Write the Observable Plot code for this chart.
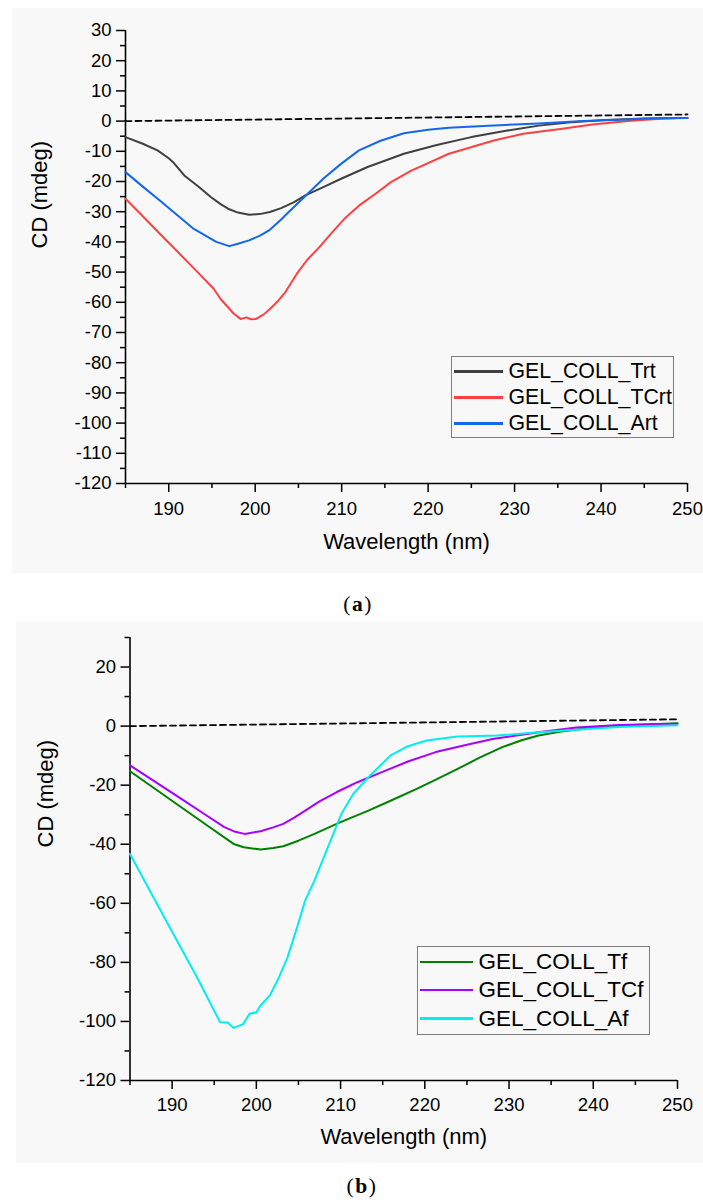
<!DOCTYPE html>
<html><head><meta charset="utf-8">
<script src="https://cdn.jsdelivr.net/npm/d3@7"></script>
<script src="https://cdn.jsdelivr.net/npm/@observablehq/plot@0.6"></script>
<style>
body{margin:0;background:#fff;}
#page{position:relative;width:703px;height:1202px;overflow:hidden;font-family:"Liberation Sans",Arial,sans-serif;}
.panel{position:absolute;background:#f8f8f8;}
.wrap{position:absolute;left:0;}
.legend{position:absolute;border:1.5px solid #7f7f7f;box-sizing:border-box;}
.sw{position:absolute;}
.lab{position:absolute;white-space:nowrap;line-height:1;color:#000;font-family:"Liberation Sans",Arial,sans-serif;}
.cap{position:absolute;font-family:"Liberation Serif","Times New Roman",serif;line-height:1;font-size:21.5px;letter-spacing:1.5px;width:100px;text-align:center;color:#000;}
</style></head>
<body><div id="page"></div>
<script>
// ---------- Data: panel (a) ----------
const wlTrt = [185, 187, 188.7, 190, 190.5, 191.8, 193.5, 194.9, 196, 197, 198, 199.3, 200.5, 201.7, 203, 204.5, 205.8, 208, 210, 213, 217.2, 221, 225, 229, 232.8, 236.5, 240.5, 245, 250];
const cdTrt = [-5.3, -7.5, -9.7, -12.3, -13.6, -18, -21.8, -25.2, -27.5, -29.2, -30.3, -31, -30.8, -30.1, -28.8, -26.8, -24.6, -21.7, -19, -15.2, -10.8, -7.9, -5.3, -3.2, -1.5, -0.4, 0.4, 0.9, 1];

const wlTCrt = [185, 187, 189, 191, 193, 195.2, 196, 197.5, 198.3, 199, 199.5, 200.1, 201, 201.7, 202.7, 203.5, 204.8, 206, 207.4, 209, 210.5, 212, 214, 215.7, 218, 222.4, 227.6, 231, 235.3, 239, 243.1, 246, 248.9, 250];
const cdTCrt = [-25.7, -31.5, -37.4, -43.2, -49, -55.5, -58.9, -63.7, -65.5, -65, -65.6, -65.5, -64, -62.2, -59.4, -56.6, -50.6, -46, -41.8, -36.5, -31.8, -28, -23.9, -20.2, -16.5, -10.8, -6.4, -4.2, -2.6, -1.1, 0, 0.6, 1, 1];

const wlArt = [185, 187, 189, 191, 192.8, 194, 195.5, 197, 198, 199.3, 200.5, 201.7, 203, 203.7, 205.8, 207.9, 210, 212, 214.5, 217.2, 220, 222.4, 227, 232.8, 238, 243, 247, 250];
const cdArt = [-16.9, -21.7, -26.4, -31.2, -35.5, -37.5, -40, -41.4, -40.6, -39.5, -38, -36, -32.6, -30.6, -24.8, -19, -14, -9.7, -6.5, -4, -2.9, -2.2, -1.5, -0.8, 0, 0.5, 1, 1];

const wlBaseA = [185, 250];
const cdBaseA = [0, 2.2];

// ---------- Data: panel (b) ----------
const wlTf = [185, 188, 191, 194, 197.3, 198.5, 200.5, 202, 203.2, 205, 206.9, 210, 213.3, 216, 219.1, 221.5, 223.9, 226.5, 229.2, 231.5, 233.5, 236, 238.8, 241.5, 244.7, 250];
const cdTf = [-15.3, -21.3, -27.3, -33.3, -39.9, -41, -41.8, -41.3, -40.7, -38.8, -36.5, -32.5, -28.6, -25.2, -21.2, -17.9, -14.5, -10.7, -7.1, -4.8, -3.2, -1.9, -0.9, -0.2, 0.4, 1];

const wlTCf = [185, 188, 191, 194, 196.2, 197.5, 198.6, 200.5, 202, 203.2, 204.5, 205.8, 207.5, 209.5, 212, 214.9, 218, 221.3, 225, 228.2, 233.5, 238, 243, 250];
const cdTCf = [-13.3, -18.9, -24.5, -30.1, -34.2, -35.8, -36.5, -35.6, -34.3, -33.1, -31, -28.6, -25.5, -22.4, -19, -15.6, -12, -8.8, -6.3, -4.3, -2.1, -0.5, 0.4, 0.8];

const wlAf = [185, 186.7, 190, 193, 195.7, 196.6, 197.3, 198.4, 199.2, 200, 200.5, 201.6, 202.7, 203.7, 204.8, 205.8, 206.9, 208.5, 210.1, 211.5, 213.3, 215.9, 218, 220.2, 223.9, 228.6, 233.5, 238, 243, 250];
const cdAf = [-43.3, -52.3, -69.6, -85.3, -100.3, -100.4, -102.2, -101, -97.4, -96.9, -94.6, -91.2, -85, -78.3, -68.5, -59, -52.3, -41, -29.7, -23, -17.3, -10, -6.8, -4.9, -3.5, -3.2, -2.1, -1.2, -0.3, 0.3];

const wlBaseB = [185, 250];
const cdBaseB = [0, 2.3];

// ---------- Labels / ticks ----------
const namesA = ["GEL_COLL_Trt", "GEL_COLL_TCrt", "GEL_COLL_Art"];
const namesB = ["GEL_COLL_Tf", "GEL_COLL_TCf", "GEL_COLL_Af"];
const xDomain = [185, 250];
const xMajor = [190, 200, 210, 220, 230, 240, 250];
const xMinor = [185, 195, 205, 215, 225, 235, 245];
const yDomainA = [-120, 30];
const yMajorA = [-120, -110, -100, -90, -80, -70, -60, -50, -40, -30, -20, -10, 0, 10, 20, 30];
const yMinorA = [-115, -105, -95, -85, -75, -65, -55, -45, -35, -25, -15, -5, 5, 15, 25];
const yDomainB = [-120, 30];
const yMajorB = [-120, -100, -80, -60, -40, -20, 0, 20];
const yMinorB = [-110, -90, -70, -50, -30, -10, 10, 30];
const xTitle = "Wavelength (nm)";
const yTitle = "CD (mdeg)";
const captions = ["a", "b"];

// ---------- Styles ----------
const colorsA = ["#404040", "#ff4040", "#1466f0"];
const colorsB = ["#008000", "#a800ff", "#00eeee"];

const rows = (wl, cd) => wl.map((w, i) => ({wl: w, cd: cd[i]}));

function panel(cfg) {
  const marks = [
    Plot.axisY(cfg.yMinor, {anchor: "left", tickSize: 5, tickFormat: () => "", label: null, strokeWidth: 1.5}),
    Plot.axisY(cfg.yMajor, {anchor: "left", tickSize: 9, tickPadding: 5, fontSize: cfg.tickFont, tickFormat: d => String(d), label: null, strokeWidth: 1.5}),
    Plot.axisX(xMinor, {anchor: "bottom", tickSize: 5, tickFormat: () => "", label: null, strokeWidth: 1.5}),
    Plot.axisX(xMajor, {anchor: "bottom", tickSize: 9, tickPadding: cfg.xPad, fontSize: cfg.tickFont, tickFormat: d => String(d), label: null, strokeWidth: 1.5}),
    Plot.ruleX([xDomain[0]], {y1: cfg.yDomain[0], y2: cfg.yDomain[1], stroke: "#000", strokeWidth: 1.6}),
    Plot.ruleY([cfg.yDomain[0]], {x1: xDomain[0], x2: xDomain[1], stroke: "#000", strokeWidth: 1.6}),
    Plot.line(cfg.base, {x: "wl", y: "cd", stroke: "#000", strokeWidth: 1.8, strokeDasharray: "6,4"}),
    ...cfg.series.map((s, i) => Plot.line(s, {x: "wl", y: "cd", stroke: cfg.colors[i], strokeWidth: 2})),
    Plot.text([xTitle], {frameAnchor: "bottom", dy: cfg.xTitleDy, fontSize: 22, lineAnchor: "middle", fill: "#000"}),
    Plot.text([yTitle], {frameAnchor: "left", rotate: -90, dx: cfg.yTitleDx, dy: cfg.yTitleDy, fontSize: 22, lineAnchor: "middle", fill: "#000"})
  ];
  return Plot.plot({
    width: 703, height: cfg.height,
    marginTop: cfg.mt, marginRight: cfg.mr, marginBottom: cfg.mb, marginLeft: cfg.ml,
    x: {domain: xDomain},
    y: {domain: cfg.yDomain},
    style: {background: "transparent", fontFamily: "'Liberation Sans', Arial, sans-serif", color: "#000", overflow: "visible"},
    marks
  });
}

const page = document.getElementById("page");
function addDiv(cls, styles, parent = page) {
  const d = document.createElement("div");
  d.className = cls;
  Object.assign(d.style, styles);
  parent.appendChild(d);
  return d;
}

function legend(names, colors, box) {
  const L = addDiv("legend", {left: box.left + "px", top: box.top + "px", width: box.width + "px", height: box.height + "px"});
  names.forEach((n, i) => {
    const cy = box.rows[i] - box.top - 1.5;
    addDiv("sw", {left: (box.x0 - box.left - 1.5) + "px", width: (box.x1 - box.x0) + "px", top: (cy - 1.25) + "px", height: "2.5px", background: colors[i]}, L);
    const t = addDiv("lab", {left: (box.tx - box.left - 1.5) + "px", top: (cy - 0.4885 * box.fs) + "px", fontSize: box.fs + "px"}, L);
    t.textContent = n;
  });
}

// Panel (a)
addDiv("panel", {left: "12px", top: "8px", width: "691px", height: "565px"});
const wa = addDiv("wrap", {top: "0px"});
wa.appendChild(panel({
  height: 573, mt: 30, mr: 16, mb: 90, ml: 125,
  yDomain: yDomainA, yMajor: yMajorA, yMinor: yMinorA, tickFont: 18.5, xPad: 9,
  base: rows(wlBaseA, cdBaseA),
  series: [rows(wlTrt, cdTrt), rows(wlTCrt, cdTCrt), rows(wlArt, cdArt)],
  colors: colorsA, xTitleDy: 58, yTitleDx: -85.5, yTitleDy: -8.5
}));
legend(namesA, colorsA, {left: 451, top: 356, width: 223, height: 82, rows: [372, 398, 424], x0: 454, x1: 503, tx: 509, fs: 21.3});

// Panel (b)
addDiv("panel", {left: "16px", top: "622px", width: "687px", height: "541px"});
const wb = addDiv("wrap", {top: "622px"});
wb.appendChild(panel({
  height: 541, mt: 15, mr: 26, mb: 83, ml: 129.5,
  yDomain: yDomainB, yMajor: yMajorB, yMinor: yMinorB, tickFont: 18.5, xPad: 8,
  base: rows(wlBaseB, cdBaseB),
  series: [rows(wlTf, cdTf), rows(wlTCf, cdTCf), rows(wlAf, cdAf)],
  colors: colorsB, xTitleDy: 56.5, yTitleDx: -84, yTitleDy: -11.5
}));
legend(namesB, colorsB, {left: 417, top: 946, width: 233, height: 89, rows: [962.5, 990.7, 1019], x0: 420, x1: 473, tx: 479, fs: 22.5});

// Captions
[[captions[0], 358, 593.5], [captions[1], 362, 1175.5]].forEach(([c, cx, top]) => {
  const d = addDiv("cap", {left: (cx - 50) + "px", top: top + "px"});
  d.append("(");
  const b = document.createElement("b"); b.textContent = c; d.appendChild(b);
  d.append(")");
});
</script>
</body></html>
